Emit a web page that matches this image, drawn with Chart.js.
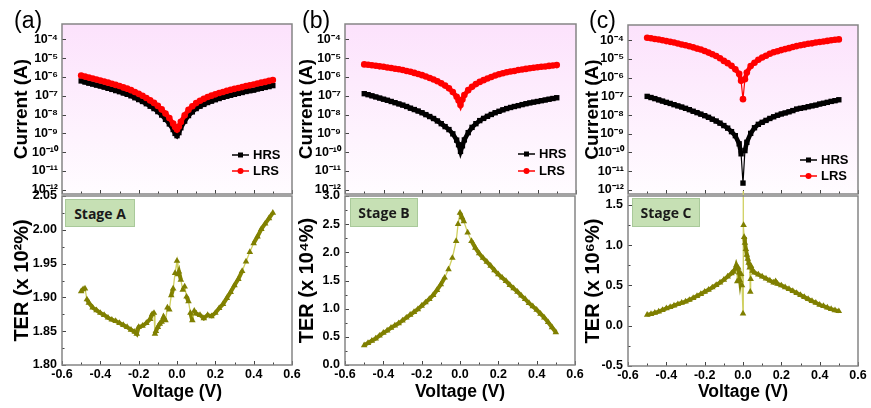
<!DOCTYPE html>
<html><head><meta charset="utf-8">
<script src="https://cdn.jsdelivr.net/npm/chart.js@4.4.0/dist/chart.umd.min.js"></script>
<style>
html,body{margin:0;padding:0;background:#fff;}
#wrap{position:relative;width:871px;height:408px;overflow:hidden;background:#fff;}
canvas{position:absolute;left:0;top:0;}
.lbl{position:absolute;font-family:"Liberation Sans",Arial,sans-serif;font-size:23px;line-height:23px;color:#000;}
.stage{position:absolute;background:#c6e0b4;border:1px solid #a9c99a;font-family:"Open Sans",sans-serif;font-weight:700;font-size:14px;color:#1a1a1a;display:flex;align-items:center;justify-content:center;box-sizing:border-box;}
</style></head>
<body><div id="wrap">
<canvas id="a1" width="871" height="408"></canvas>
<canvas id="a2" width="871" height="408"></canvas>
<canvas id="b1" width="871" height="408"></canvas>
<canvas id="b2" width="871" height="408"></canvas>
<canvas id="c1" width="871" height="408"></canvas>
<canvas id="c2" width="871" height="408"></canvas>
<div class="lbl" style="left:14px;top:9px">(a)</div>
<div class="lbl" style="left:302px;top:9px">(b)</div>
<div class="lbl" style="left:589px;top:9px">(c)</div>
<div class="stage" style="left:65px;top:199px;width:70px;height:28px">Stage A</div>
<div class="stage" style="left:350px;top:198px;width:68px;height:29px">Stage B</div>
<div class="stage" style="left:632px;top:198px;width:68px;height:29px">Stage C</div>
</div>
<script>
// ---------- data ----------
const voltage = [-0.50,-0.48,-0.46,-0.44,-0.42,-0.40,-0.38,-0.36,-0.34,-0.32,-0.30,-0.28,-0.26,-0.24,-0.22,-0.20,-0.18,-0.16,-0.14,-0.12,-0.10,-0.08,-0.06,-0.04,-0.02,-0.01,0,0.01,0.02,0.04,0.06,0.08,0.10,0.12,0.14,0.16,0.18,0.20,0.22,0.24,0.26,0.28,0.30,0.32,0.34,0.36,0.38,0.40,0.42,0.44,0.46,0.48,0.50];

const hrsA = [6.2e-7,5.4e-7,4.7e-7,4.2e-7,3.7e-7,3.3e-7,2.9e-7,2.5e-7,2.2e-7,1.9e-7,1.66e-7,1.41e-7,1.2e-7,1.0e-7,7.9e-8,6.3e-8,5.0e-8,3.8e-8,2.8e-8,2.1e-8,1.45e-8,9.5e-9,5.6e-9,3.2e-9,1.6e-9,1.0e-9,7.6e-10,1.1e-9,2.0e-9,4.5e-9,8.9e-9,1.4e-8,2.1e-8,2.8e-8,3.5e-8,4.4e-8,5.2e-8,6.2e-8,7.2e-8,8.3e-8,9.5e-8,1.07e-7,1.2e-7,1.35e-7,1.5e-7,1.7e-7,1.86e-7,2.0e-7,2.3e-7,2.5e-7,2.8e-7,3.1e-7,3.5e-7];
const lrsA = [1.2e-6,1.05e-6,9.3e-7,8.3e-7,7.4e-7,6.5e-7,5.7e-7,5.0e-7,4.4e-7,3.8e-7,3.3e-7,2.8e-7,2.4e-7,2.0e-7,1.6e-7,1.27e-7,1.0e-7,7.7e-8,5.7e-8,4.2e-8,2.9e-8,1.9e-8,1.15e-8,6.6e-9,3.3e-9,2.2e-9,1.6e-9,2.3e-9,4.1e-9,9.2e-9,1.8e-8,2.8e-8,4.1e-8,5.5e-8,6.9e-8,8.6e-8,1.02e-7,1.2e-7,1.4e-7,1.6e-7,1.85e-7,2.1e-7,2.35e-7,2.6e-7,2.9e-7,3.3e-7,3.6e-7,4.0e-7,4.5e-7,5.0e-7,5.5e-7,6.2e-7,6.9e-7];

const hrsB = [1.3e-7,1.15e-7,1.0e-7,8.7e-8,7.6e-8,6.6e-8,5.8e-8,5.0e-8,4.3e-8,3.7e-8,3.2e-8,2.7e-8,2.2e-8,1.86e-8,1.55e-8,1.26e-8,1.0e-8,7.9e-9,6.2e-9,4.6e-9,3.3e-9,2.3e-9,1.6e-9,9.5e-10,4.4e-10,2.5e-10,1.1e-10,2.2e-10,4.5e-10,1.1e-9,2.1e-9,3.3e-9,4.8e-9,6.3e-9,8.1e-9,1.02e-8,1.26e-8,1.5e-8,1.8e-8,2.1e-8,2.4e-8,2.7e-8,3.0e-8,3.4e-8,3.8e-8,4.2e-8,4.6e-8,5.0e-8,5.5e-8,6.0e-8,6.6e-8,7.2e-8,7.9e-8];
const lrsB = [4.7e-6,4.5e-6,4.2e-6,4.0e-6,3.7e-6,3.5e-6,3.2e-6,3.0e-6,2.75e-6,2.6e-6,2.35e-6,2.1e-6,1.9e-6,1.66e-6,1.45e-6,1.26e-6,1.07e-6,8.9e-7,7.4e-7,5.9e-7,4.6e-7,3.5e-7,2.5e-7,1.6e-7,8.9e-8,5.6e-8,3.2e-8,6.3e-8,1.1e-7,2.0e-7,3.0e-7,4.2e-7,5.5e-7,6.8e-7,8.3e-7,1.0e-6,1.2e-6,1.4e-6,1.6e-6,1.78e-6,1.95e-6,2.1e-6,2.35e-6,2.5e-6,2.7e-6,2.9e-6,3.1e-6,3.3e-6,3.5e-6,3.6e-6,3.9e-6,4.1e-6,4.3e-6];

const hrsC = [1.0e-7,8.7e-8,7.6e-8,6.5e-8,5.6e-8,4.8e-8,4.2e-8,3.6e-8,3.1e-8,2.7e-8,2.3e-8,1.95e-8,1.6e-8,1.35e-8,1.12e-8,9.3e-9,7.6e-9,6.0e-9,4.8e-9,3.7e-9,2.75e-9,2.0e-9,1.3e-9,7.9e-10,2.9e-10,8.5e-11,2.3e-12,1.26e-10,3.5e-10,1.05e-9,2.1e-9,3.2e-9,4.1e-9,5.2e-9,6.6e-9,8.1e-9,9.8e-9,1.15e-8,1.3e-8,1.5e-8,1.74e-8,2.1e-8,2.3e-8,2.5e-8,2.8e-8,3.1e-8,3.4e-8,3.9e-8,4.3e-8,4.8e-8,5.4e-8,5.9e-8,6.6e-8];
const lrsC = [1.38e-4,1.29e-4,1.17e-4,1.1e-4,1.0e-4,9.1e-5,8.3e-5,7.6e-5,6.8e-5,6.0e-5,5.4e-5,4.8e-5,4.2e-5,3.6e-5,3.2e-5,2.7e-5,2.2e-5,1.8e-5,1.45e-5,1.1e-5,7.9e-6,6.0e-6,4.3e-6,2.8e-6,1.6e-6,6.8e-7,7.1e-8,8.3e-7,1.9e-6,4.2e-6,6.3e-6,9.1e-6,1.2e-5,1.5e-5,1.9e-5,2.3e-5,2.6e-5,3.0e-5,3.4e-5,3.8e-5,4.4e-5,4.9e-5,5.4e-5,5.9e-5,6.5e-5,6.9e-5,7.6e-5,8.1e-5,8.7e-5,9.3e-5,1.0e-4,1.07e-4,1.12e-4];

const terAVolt = [-0.50,-0.49,-0.48,-0.47,-0.46,-0.44,-0.42,-0.40,-0.38,-0.36,-0.34,-0.32,-0.30,-0.28,-0.26,-0.24,-0.22,-0.21,-0.20,-0.18,-0.16,-0.14,-0.13,-0.12,-0.115,-0.11,-0.10,-0.09,-0.08,-0.07,-0.06,-0.05,-0.04,-0.03,-0.02,-0.01,0.00,0.005,0.01,0.02,0.03,0.04,0.05,0.06,0.07,0.08,0.09,0.10,0.12,0.14,0.16,0.18,0.20,0.22,0.24,0.26,0.28,0.30,0.32,0.34,0.36,0.38,0.40,0.42,0.44,0.46,0.48,0.50];
const terA = [1.909,1.912,1.913,1.897,1.892,1.885,1.881,1.877,1.874,1.870,1.867,1.865,1.862,1.859,1.856,1.852,1.849,1.846,1.856,1.858,1.862,1.868,1.875,1.877,1.846,1.850,1.856,1.861,1.864,1.871,1.866,1.885,1.882,1.903,1.913,1.936,1.954,1.934,1.938,1.926,1.911,1.916,1.901,1.894,1.877,1.866,1.880,1.876,1.874,1.869,1.874,1.872,1.877,1.884,1.890,1.899,1.908,1.918,1.927,1.939,1.953,1.967,1.980,1.990,2.001,2.009,2.017,2.025];

const terB = [0.35,0.39,0.43,0.47,0.52,0.57,0.61,0.66,0.70,0.74,0.79,0.84,0.89,0.94,0.99,1.05,1.11,1.17,1.24,1.33,1.43,1.55,1.70,1.90,2.20,2.50,2.70,2.62,2.55,2.35,2.20,2.08,1.98,1.90,1.83,1.76,1.68,1.61,1.55,1.49,1.42,1.36,1.30,1.23,1.17,1.10,1.04,0.98,0.91,0.84,0.76,0.67,0.58];

const terCVolt = [-0.50,-0.48,-0.46,-0.44,-0.42,-0.40,-0.38,-0.36,-0.34,-0.32,-0.30,-0.28,-0.26,-0.24,-0.22,-0.20,-0.18,-0.16,-0.14,-0.12,-0.10,-0.08,-0.06,-0.05,-0.04,-0.035,-0.032,-0.03,-0.025,-0.02,-0.015,-0.01,-0.005,0,0,0.003,0.006,0.01,0.015,0.02,0.025,0.03,0.035,0.038,0.04,0.042,0.05,0.06,0.08,0.10,0.12,0.14,0.16,0.17,0.18,0.20,0.22,0.24,0.26,0.28,0.30,0.32,0.34,0.36,0.38,0.40,0.42,0.44,0.46,0.48,0.50];
const terC = [0.134,0.145,0.160,0.175,0.195,0.216,0.232,0.250,0.267,0.283,0.300,0.320,0.343,0.368,0.393,0.420,0.445,0.475,0.505,0.535,0.570,0.610,0.650,0.670,0.710,0.750,0.730,0.550,0.720,0.660,0.560,0.640,0.500,0.150,1.750,1.250,1.100,1.030,0.950,0.880,0.830,0.780,0.720,0.420,0.580,0.740,0.680,0.660,0.635,0.610,0.585,0.560,0.535,0.550,0.520,0.500,0.477,0.455,0.430,0.405,0.380,0.355,0.330,0.305,0.285,0.260,0.243,0.225,0.207,0.192,0.180];

// ---------- ticks ----------
const logTickValues = [1e-12,1e-11,1e-10,1e-9,1e-8,1e-7,1e-6,1e-5,1e-4];
const logTickLabels = ['10\u207B\u00B9\u00B2','10\u207B\u00B9\u00B9','10\u207B\u00B9\u2070','10\u207B\u2079','10\u207B\u2078','10\u207B\u2077','10\u207B\u2076','10\u207B\u2075','10\u207B\u2074'];
const xTickValues = [-0.6,-0.4,-0.2,0,0.2,0.4,0.6];
const xTickLabels = ['-0.6','-0.4','-0.2','0.0','0.2','0.4','0.6'];
const xMinorTicks = [-0.5,-0.3,-0.1,0.1,0.3,0.5];
const terATicks = [1.80,1.85,1.90,1.95,2.00,2.05];
const terALabels = ['1.80','1.85','1.90','1.95','2.00','2.05'];
const terBTicks = [0,0.5,1.0,1.5,2.0,2.5,3.0];
const terBLabels = ['0.0','0.5','1.0','1.5','2.0','2.5','3.0'];
const terCTicks = [-0.5,0,0.5,1.0,1.5];
const terCLabels = ['-0.5','0.0','0.5','1.0','1.5'];

// ---------- drawing ----------
const FF = "'Liberation Sans', Arial, sans-serif";
Chart.defaults.font.family = FF;
Chart.defaults.color = '#000';

const segLen = c => Math.hypot(c.p1.x - c.p0.x, c.p1.y - c.p0.y);

const framePlugin = {
  id: 'frame',
  beforeDatasetsDraw(chart, args, o) {
    if (!o || !o.bg) return;
    const a = chart.chartArea, ctx = chart.ctx;
    const g = ctx.createLinearGradient(0, a.top, 0, a.bottom);
    g.addColorStop(0, '#fce2fc');
    g.addColorStop(1, '#fffcff');
    ctx.save(); ctx.fillStyle = g;
    ctx.fillRect(a.left, a.top, a.right - a.left, a.bottom - a.top);
    ctx.restore();
  },
  afterDraw(chart, args, o) {
    if (!o) return;
    const a = chart.chartArea, ctx = chart.ctx;
    ctx.save();
    ctx.strokeStyle = '#444'; ctx.lineWidth = 1;
    const xs = chart.scales.x, ys = chart.scales.y;
    const tick = (x1,y1,x2,y2)=>{ctx.beginPath();ctx.moveTo(x1,y1);ctx.lineTo(x2,y2);ctx.stroke();};
    xTickValues.forEach(v=>{const p=Math.round(xs.getPixelForValue(v))+0.5; tick(p,a.bottom,p,a.bottom-4);});
    xMinorTicks.forEach(v=>{const p=Math.round(xs.getPixelForValue(v))+0.5; tick(p,a.bottom,p,a.bottom-2.5);});
    ys.ticks.forEach((t,i)=>{const p=Math.round(ys.getPixelForValue(t.value))+0.5; tick(a.left,p,a.left+4,p);
      if (o.yMinor && i<ys.ticks.length-1){const q=Math.round((ys.getPixelForValue(t.value)+ys.getPixelForValue(ys.ticks[i+1].value))/2)+0.5; tick(a.left,q,a.left+2.5,q);} });
    ctx.strokeStyle = '#858585'; ctx.lineWidth = 1.5;
    ctx.strokeRect(a.left, a.top, a.right - a.left, a.bottom - a.top);
    if (o.legend) {
      const L = o.legend;
      ['HRS','LRS'].forEach((name,i)=>{
        const ds = chart.data.datasets.find(d=>d.label===name);
        const y = a.bottom - L.dy[i];
        const x0 = a.right - L.dx;
        ctx.strokeStyle = ds.backgroundColor; ctx.lineWidth = 1.5;
        tick(x0, y, x0+17, y);
        ctx.fillStyle = ds.backgroundColor;
        if (ds.pointStyle === 'rect') ctx.fillRect(x0+8.5-2.5, y-2.5, 5, 5);
        else { ctx.beginPath(); ctx.arc(x0+8.5, y, 3, 0, Math.PI*2); ctx.fill(); }
        ctx.fillStyle = '#000'; ctx.font = 'bold 13px ' + FF; ctx.textBaseline = 'middle'; ctx.textAlign='left';
        ctx.fillText(name, x0+21, y+0.5);
      });
    }
    ctx.restore();
  }
};

function pts(xs, ys){ return xs.map((v,i)=>({x:v, y:ys[i]})); }

function ivDataset(label, xs, ys, color, style, r, order) {
  return {label, data: pts(xs, ys), showLine:true, borderColor:color, backgroundColor:color,
    pointStyle:style, pointRadius:r, pointBorderWidth:0, borderWidth:4.5, order,
    segment:{borderWidth: c => segLen(c) > 14 ? 1.2 : 4.5}};
}

function ivChart(id, box, W, hrs, lrs, legend) {
  return new Chart(document.getElementById(id), {
    type: 'scatter',
    data: { datasets: [
      ivDataset('LRS', voltage, lrs, '#ff0000', 'circle', 3.3, 0),
      ivDataset('HRS', voltage, hrs, '#000000', 'rect', 3.8, 1)
    ]},
    options: {
      responsive:false, animation:false, devicePixelRatio:1,
      layout:{padding:{left:box.l-W, top:box.t, right:871-box.r, bottom:408-box.b}},
      plugins:{legend:{display:false}, tooltip:{enabled:false}, frame:{bg:true, legend:legend}},
      scales:{
        x:{type:'linear', display:false, min:-0.6, max:0.6},
        y:{type:'logarithmic', min:6.0e-13, max:6.6e-4,
           afterBuildTicks: s=>{ s.ticks = logTickValues.map(v=>({value:v})); },
           afterFit: s=>{ s.width = W; },
           grid:{display:false, drawTicks:false}, border:{display:false},
           ticks:{autoSkip:false, padding:4, font:{size:12.5, weight:'bold'}, color:'#000', callback:(v,i)=>logTickLabels[i]},
           title:{display:true, text:'Current (A)', font:{size:19, weight:'bold'}, color:'#000', padding:{top:0,bottom:0}}
        }
      }
    },
    plugins:[framePlugin]
  });
}

function terChart(id, box, W, xs, ys, yMin, yMax, tv, tl, title) {
  const XH = 402.5 - box.b;
  return new Chart(document.getElementById(id), {
    type: 'scatter',
    data: { datasets: [
      {label:'TER', data: pts(xs, ys), showLine:true, borderColor:'#858500', backgroundColor:'#7f7f00',
       pointStyle:'triangle', pointRadius:3.8, pointBorderWidth:0, borderWidth:4,
       segment:{borderWidth: c => segLen(c) > 9 ? 1.3 : 4, borderColor: c => segLen(c) > 9 ? '#d0d060' : '#858500'},
       clip:{left:2,right:2,top:5,bottom:2}}
    ]},
    options: {
      responsive:false, animation:false, devicePixelRatio:1,
      layout:{padding:{left:box.l-W, top:box.t, right:871-box.r, bottom:5.5}},
      plugins:{legend:{display:false}, tooltip:{enabled:false}, frame:{bg:false, yMinor:true}},
      scales:{
        x:{type:'linear', min:-0.6, max:0.6,
           afterBuildTicks: s=>{ s.ticks = xTickValues.map(v=>({value:v})); },
           afterFit: s=>{ s.height = XH; },
           grid:{display:false, drawTicks:false}, border:{display:false},
           ticks:{autoSkip:false, maxRotation:0, padding:2, font:{size:12.5, weight:'bold'}, color:'#000', callback:(v,i)=>xTickLabels[i]},
           title:{display:true, text:'Voltage (V)', font:{size:17.5, weight:'bold'}, color:'#000', padding:{top:0,bottom:0}}
        },
        y:{type:'linear', min:yMin, max:yMax,
           afterBuildTicks: s=>{ s.ticks = tv.map(v=>({value:v})); },
           afterFit: s=>{ s.width = W; },
           grid:{display:false, drawTicks:false}, border:{display:false},
           ticks:{autoSkip:false, padding:5, font:{size:12.5, weight:'bold'}, color:'#000', callback:(v,i)=>tl[i]},
           title:{display:true, text:title, font:{size:20, weight:'bold'}, color:'#000', padding:{top:0,bottom:0}}
        }
      }
    },
    plugins:[framePlugin]
  });
}

ivChart('a1', {l:62,t:24,r:292,b:194}, 52, hrsA, lrsA, {dx:60, dy:[39,23]});
ivChart('b1', {l:345,t:24,r:576,b:194}, 50, hrsB, lrsB, {dx:58, dy:[40,23]});
ivChart('c1', {l:628,t:25,r:858,b:194}, 47, hrsC, lrsC, {dx:58, dy:[34,18]});
terChart('a2', {l:62,t:196,r:292,b:365}, 52, terAVolt, terA, 1.80, 2.05, terATicks, terALabels, 'TER (x 10\u00B2%)');
terChart('b2', {l:345,t:196,r:575,b:365}, 50, voltage, terB, 0, 3.0, terBTicks, terBLabels, 'TER (x 10\u2074%)');
terChart('c2', {l:628,t:196,r:858,b:366}, 47, terCVolt, terC, -0.5, 1.61, terCTicks, terCLabels, 'TER (x 10\u2076%)');
</script>
</body></html>
